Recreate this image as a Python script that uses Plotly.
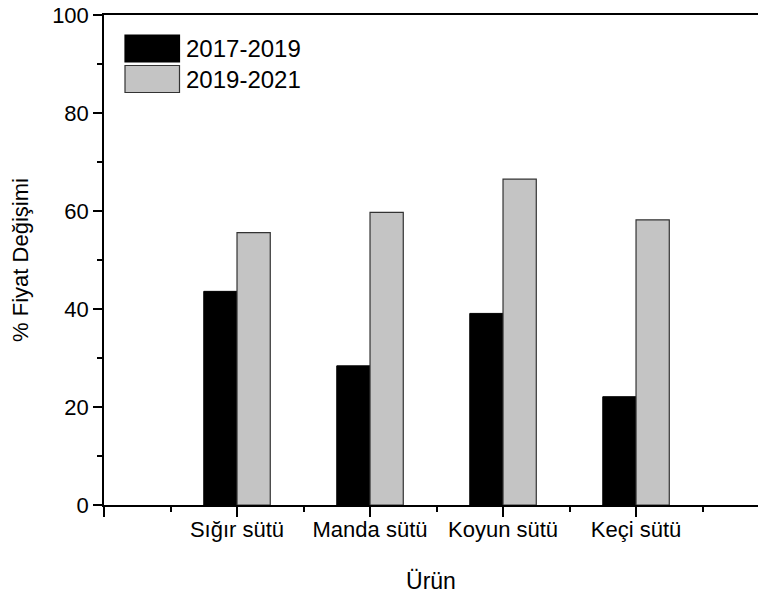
import plotly.graph_objects as go

# Data
categories = ['Sığır sütü', 'Manda sütü', 'Koyun sütü', 'Keçi sütü']
change_2017_2019 = [43.6, 28.4, 39.1, 22.1]
change_2019_2021 = [55.6, 59.7, 66.5, 58.2]
series_names = ['2017-2019', '2019-2021']

positions = list(range(1, len(categories) + 1))
FONT = 'Liberation Sans, Arial, sans-serif'
BLACK = '#000000'
GREY = '#c4c4c4'

fig = go.Figure()

fig.add_trace(go.Bar(
    x=positions, y=change_2017_2019, name=series_names[0],
    width=0.25, offset=-0.25,
    marker=dict(color=BLACK, line=dict(color=BLACK, width=1)),
    showlegend=False,
))
fig.add_trace(go.Bar(
    x=positions, y=change_2019_2021, name=series_names[1],
    width=0.25, offset=0,
    marker=dict(color=GREY, line=dict(color='#333333', width=1.2)),
    showlegend=False,
))

# Hand-built legend with large swatches (plot area is 654 x 490 px)
legend_rows = [(series_names[0], BLACK, '#000000'), (series_names[1], GREY, '#333333')]
for i, (label, fill, edge) in enumerate(legend_rows):
    y_top = 1 - (20 + 30.5 * i) / 490
    y_bot = y_top - 27 / 490
    fig.add_shape(type='rect', xref='paper', yref='paper',
                  x0=21 / 654, x1=75.5 / 654, y0=y_bot, y1=y_top,
                  fillcolor=fill, line=dict(color=edge, width=1.2))
    fig.add_annotation(xref='paper', yref='paper', x=80 / 654, y=(y_top + y_bot) / 2,
                       text=label, showarrow=False, xanchor='left', yanchor='middle',
                       font=dict(size=24, color='black', family=FONT))

fig.update_layout(
    width=758, height=597,
    margin=dict(l=104, r=0, t=15, b=92),
    paper_bgcolor='white', plot_bgcolor='white',
    font=dict(family=FONT, size=22, color='black'),
    barmode='overlay',
    showlegend=False,
)

fig.update_xaxes(
    range=[0, 4.917],
    tickvals=[0] + positions,
    ticktext=[''] + categories,
    ticks='outside', ticklen=10, tickwidth=1.5, tickcolor='black',
    ticklabelstandoff=-6,
    minor=dict(dtick=0.5, tick0=0, ticks='outside', ticklen=5, tickwidth=1.5, tickcolor='black'),
    showline=True, linecolor='black', linewidth=1.5, mirror=True,
    showgrid=False, zeroline=False, automargin=False,
    title=dict(text='Ürün', standoff=32, font=dict(size=23)),
)
fig.update_yaxes(
    range=[0, 100],
    dtick=20,
    ticks='outside', ticklen=9, tickwidth=1.5, tickcolor='black',
    minor=dict(dtick=10, ticks='outside', ticklen=5, tickwidth=1.5, tickcolor='black'),
    showline=True, linecolor='black', linewidth=1.5,
    showgrid=False, zeroline=False, automargin=False,
    title=dict(text='% Fiyat Değişimi', standoff=17, font=dict(size=22)),
)

# drop the browser's default 8px body margin so the figure fills the window
fig.write_html('out.html', config={'displayModeBar': False},
               post_script="document.body.style.margin='0';"
                           "document.body.style.overflow='hidden';")
